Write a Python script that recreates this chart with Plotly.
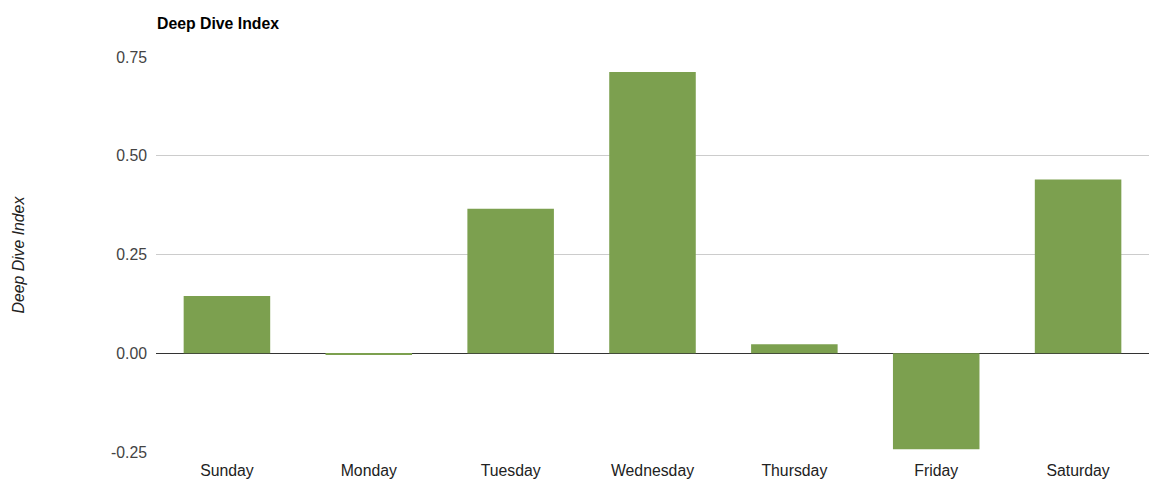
import plotly.graph_objects as go

days = ["Sunday", "Monday", "Tuesday", "Wednesday", "Thursday", "Friday", "Saturday"]
values = [0.145, -0.004, 0.366, 0.712, 0.023, -0.243, 0.440]
tick_vals = [-0.25, 0.0, 0.25, 0.5, 0.75]
tick_text = ["-0.25", "0.00", "0.25", "0.50", "0.75"]

# page body adds an 8px offset; compensate so the plot sits where the reference has it
W, H = 1150, 489
L, R, T, B = 148, 9, 49, 45

fig = go.Figure(go.Bar(
    x=days, y=values,
    marker=dict(color="#7ca04f", line=dict(width=0)),
    width=0.61,
    hoverinfo="x+y",
))

fig.update_layout(
    width=W, height=H,
    margin=dict(l=L, r=R, t=T, b=B),
    paper_bgcolor="white", plot_bgcolor="white",
    font=dict(family="Liberation Sans, Arial, sans-serif", size=15.8, color="#333"),
    showlegend=False,
    title=dict(text="<b>Deep Dive Index</b>", x=(L + 1) / W, xanchor="left",
               y=1 - 15 / H, yanchor="middle",
               font=dict(size=15.8, color="#000")),
    xaxis=dict(showgrid=False, showline=False, ticks="", tickfont=dict(color="#222"),
               ticklabelstandoff=7),
    yaxis=dict(range=[-0.25, 0.75], tickvals=tick_vals, ticktext=tick_text,
               showgrid=True, gridcolor="#cccccc", gridwidth=1,
               zeroline=True, zerolinecolor="#333333", zerolinewidth=1,
               ticks="", ticklabelstandoff=8, tickfont=dict(color="#444")),
    annotations=[dict(text="<i>Deep Dive Index</i>", xref="paper", yref="paper",
                      x=(10 - L) / (W - L - R), y=0.5, textangle=-90, showarrow=False,
                      xanchor="center", yanchor="middle",
                      font=dict(size=15.8, color="#222"))],
)

fig.write_html("out.html")
